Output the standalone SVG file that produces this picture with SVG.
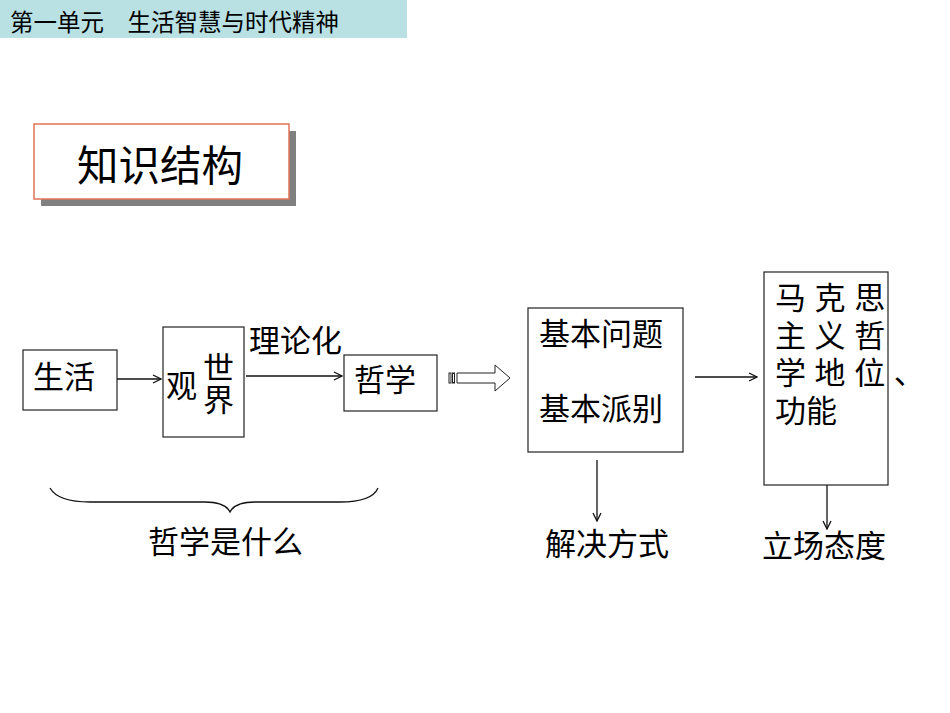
<svg xmlns="http://www.w3.org/2000/svg" width="950" height="713" viewBox="0 0 950 713">
<defs>
<style>
text{font-family:"Liberation Sans","Noto Sans CJK SC",sans-serif;fill:#000;}
.t{font-size:31px;}
.box{fill:#fff;stroke:#222;stroke-width:1.2;}
.ln{fill:none;stroke:#111;stroke-width:1.3;}
</style>
<marker id="ah" viewBox="0 0 10 10" refX="9" refY="5" markerWidth="10" markerHeight="10" markerUnits="userSpaceOnUse" orient="auto">
<path d="M1,1 L9,5 L1,9" fill="none" stroke="#111" stroke-width="1.3"/>
</marker>
</defs>
<rect width="950" height="713" fill="#fff"/>
<g id="header">
<rect x="0" y="0" width="407" height="38" fill="#B9E0E3"/>
<text x="10" y="31" font-size="23.5">第一单元　生活智慧与时代精神</text>
</g>
<g id="title">
<rect x="41" y="131" width="255" height="75" fill="#808080"/>
<rect x="34" y="124" width="255" height="75" fill="#fff" stroke="#E0745A" stroke-width="1.5"/>
<text x="77" y="181" font-size="41.5">知识结构</text>
</g>
<g id="connectors">
<line class="ln" x1="117" y1="379" x2="161" y2="379" marker-end="url(#ah)"/>
<line class="ln" x1="246" y1="376" x2="342" y2="376" marker-end="url(#ah)"/>
<line class="ln" x1="695" y1="377" x2="757" y2="377" marker-end="url(#ah)"/>
<line class="ln" x1="597" y1="460" x2="597" y2="521" marker-end="url(#ah)"/>
<line class="ln" x1="827" y1="485" x2="827" y2="529" marker-end="url(#ah)"/>
<g id="blockarrow" fill="#fff" stroke="#222" stroke-width="1">
<rect x="449" y="373" width="2" height="10"/>
<rect x="452.5" y="373" width="2" height="10"/>
<path d="M457,373 L495,373 L495,365 L510,378 L495,391 L495,383 L457,383 Z"/>
</g>
<path class="ln" d="M50,488 Q58,502 90,502 L205,502 Q225,502 230,512 Q235,502 255,502 L340,502 Q372,502 378,488"/>
</g>
<g id="n-shenghuo">
<rect class="box" x="23" y="350" width="94" height="60"/>
<text class="t" x="33" y="388">生活</text>
</g>
<g id="n-shijieguan">
<rect class="box" x="163" y="327" width="81" height="110"/>
<text class="t" x="203" y="379">世</text>
<text class="t" x="203" y="411">界</text>
<text class="t" x="166" y="397">观</text>
</g>
<g id="l-lilunhua">
<text class="t" x="249" y="352">理论化</text>
</g>
<g id="n-zhexue">
<rect class="box" x="344" y="355" width="93" height="56"/>
<text class="t" x="354" y="391">哲学</text>
</g>
<g id="n-jiben">
<rect class="box" x="528" y="308" width="155" height="144"/>
<text class="t" x="539" y="345">基本问题</text>
<text class="t" x="539" y="420">基本派别</text>
</g>
<g id="n-makesi">
<rect class="box" x="764" y="272" width="124" height="213"/>
<text class="t" x="775" y="309">马 克 思</text>
<text class="t" x="775" y="347">主 义 哲</text>
<text class="t" x="775" y="384">学 地 位 、</text>
<text class="t" x="775" y="422">功能</text>
</g>
<g id="n-jiejue">
<text class="t" x="545" y="555">解决方式</text>
</g>
<g id="n-lichang">
<text class="t" x="762" y="557">立场态度</text>
</g>
<g id="n-shenme">
<text class="t" x="148" y="553">哲学是什么</text>
</g>
</svg>
